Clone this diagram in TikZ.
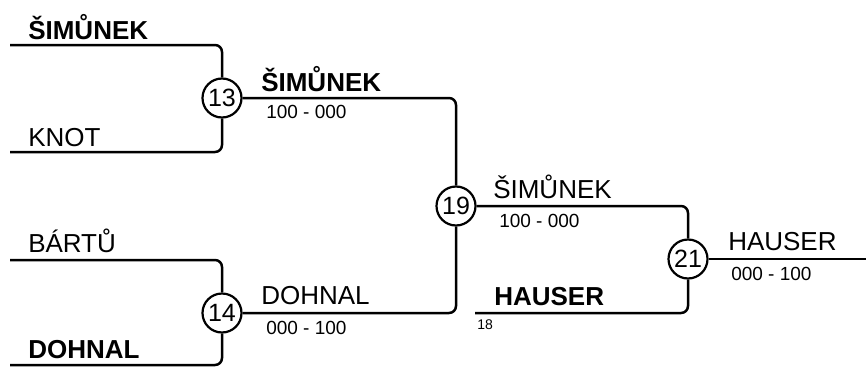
\documentclass[tikz,border=0pt]{standalone}
\usepackage{fontspec}
\setmainfont{Liberation Sans}
\usepackage{tikz}

\begin{document}
\begin{tikzpicture}[x=1pt,y=-1pt,line width=2.5pt,rounded corners=7pt]
    \tikzstyle{match}=[draw, circle, minimum size=39pt, inner sep=0pt, fill=white, line width=2.2pt, font=\fontsize{25}{25}\selectfont]
    \tikzstyle{player}=[anchor=base west, inner sep=0pt, font=\fontsize{26}{26}\selectfont]
    \tikzstyle{winner}=[style=player, font=\fontsize{26}{26}\selectfont\bfseries]
    \tikzstyle{score}=[anchor=base west, inner sep=0pt, font=\fontsize{19}{19}\selectfont]
    \tikzstyle{seed}=[anchor=base west, inner sep=0pt, font=\fontsize{14}{14}\selectfont]

    \useasboundingbox (0,0) rectangle (866,372);

    % matches
    \node[match] (m13) at (222,98)  {13};
    \node[match] (m14) at (222,313) {14};
    \node[match] (m19) at (456,206) {19};
    \node[match] (m21) at (688,259) {21};

    % line ends
    \coordinate (p1) at (10,45);
    \coordinate (p2) at (10,152);
    \coordinate (p3) at (10,260);
    \coordinate (p4) at (10,365);
    \coordinate (p5) at (475,313);
    \coordinate (fin) at (866,259);

    \draw (p1) -| (m13);
    \draw (p2) -| (m13);
    \draw (p3) -| (m14);
    \draw (p4) -| (m14);
    \draw (m13) -| (m19);
    \draw (m14) -| (m19);
    \draw (m19) -| (m21);
    \draw (p5) -| (m21);
    \draw (m21) -- (fin);

    % names
    \node[winner] (n1) at (27,39)   {ŠIMŮNEK};
    \node[player] (n2) at (27,146)  {KNOT};
    \node[player] (n3) at (27,252)  {BÁRTŮ};
    \node[winner] (n4) at (27,358)  {DOHNAL};
    \node[winner] (n13) at (260,91) {ŠIMŮNEK};
    \node[player] (n14) at (260,304) {DOHNAL};
    \node[player] (n19) at (492,198) {ŠIMŮNEK};
    \node[winner] (n18) at (493,305) {HAUSER};
    \node[player] (n21) at (727,250) {HAUSER};

    % scores
    \node[score] (s13) at (265,118) {100 - 000};
    \node[score] (s14) at (265,334) {000 - 100};
    \node[score] (s19) at (498,227) {100 - 000};
    \node[score] (s21) at (730,280) {000 - 100};
    \node[seed] (k18) at (476,329) {18};
\end{tikzpicture}
\end{document}
